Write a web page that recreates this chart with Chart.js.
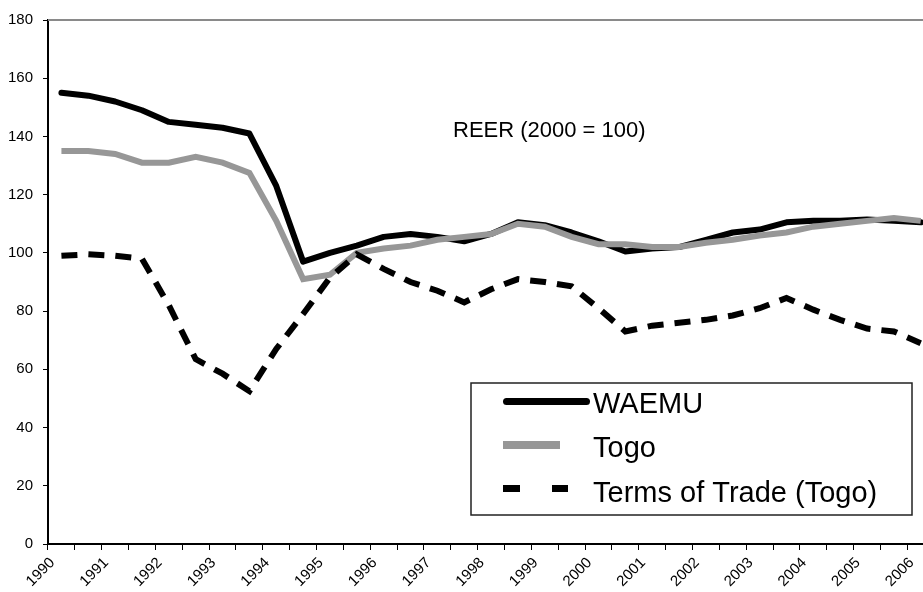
<!DOCTYPE html>
<html>
<head>
<meta charset="utf-8">
<script src="https://cdn.jsdelivr.net/npm/chart.js@4.4.1/dist/chart.umd.min.js"></script>
<style>
  html, body { margin: 0; padding: 0; background: #fff; }
  #wrap { width: 923px; height: 592px; overflow: hidden; }
</style>
</head>
<body>
<div id="wrap"><canvas id="chart" width="980" height="592"></canvas></div>
<script>
// half-year periods, labels shown only on the first half
const periods = [
  '1990 H1', '1990 H2', '1991 H1', '1991 H2', '1992 H1', '1992 H2', '1993 H1', '1993 H2',
  '1994 H1', '1994 H2', '1995 H1', '1995 H2', '1996 H1', '1996 H2', '1997 H1', '1997 H2',
  '1998 H1', '1998 H2', '1999 H1', '1999 H2', '2000 H1', '2000 H2', '2001 H1', '2001 H2',
  '2002 H1', '2002 H2', '2003 H1', '2003 H2', '2004 H1', '2004 H2', '2005 H1', '2005 H2',
  '2006 H1', '2006 H2'
];

const waemu = [155, 154, 152, 149, 145, 144, 143, 141, 123, 97, 100, 102.5, 105.5, 106.5, 105.5, 104,
  106.5, 110.5, 109.5, 107, 104, 100.5, 101.5, 102, 104.5, 107, 108, 110.5, 111, 111, 111.5, 111, 110.5];
const togo = [135, 135, 134, 131, 131, 133, 131, 127.5, 111, 91, 92.5, 100, 101.5, 102.5, 104.5, 105.5,
  106.5, 110, 109, 105.5, 103, 103, 102, 102, 103.5, 104.5, 106, 107, 109, 110, 111, 112, 111];
const termsOfTrade = [99, 99.5, 99, 98, 82, 63.5, 58.5, 52.5, 67, 79, 91.5, 99.5, 94.5, 90, 87, 83,
  87.5, 91, 90, 88.5, 81, 73, 75, 76, 77, 78.5, 81, 84.5, 80.5, 77, 74, 73, 69];

const yTicks = [0, 20, 40, 60, 80, 100, 120, 140, 160, 180];
const note = 'REER (2000 = 100)';

const FONT = "'Liberation Sans', Arial, sans-serif";

// legend sample looks: [length, width, cap, dash]
const legendSamples = [
  {len: 87, width: 7, cap: 'round', dash: []},
  {len: 57, width: 8, cap: 'butt', dash: []},
  {len: 65, width: 7, cap: 'butt', dash: [17, 32]}
];

const extras = {
  id: 'extras',
  afterDraw(chart) {
    const ctx = chart.ctx;
    const area = chart.chartArea;
    ctx.save();
    // top frame line
    ctx.strokeStyle = '#8a8a8a';
    ctx.lineWidth = 2;
    ctx.beginPath();
    ctx.moveTo(area.left, area.top);
    ctx.lineTo(area.right, area.top);
    ctx.stroke();

    // note
    ctx.fillStyle = '#000';
    ctx.font = '22px ' + FONT;
    ctx.textBaseline = 'alphabetic';
    ctx.fillText(note, 453, 137);

    // legend
    ctx.fillStyle = '#fff';
    ctx.fillRect(471, 383, 441, 132);
    ctx.strokeStyle = '#222';
    ctx.lineWidth = 1.5;
    ctx.strokeRect(471, 383, 441, 132);
    const rowY = [401.5, 445, 488.5];
    const textY = [413, 457, 501.5];
    chart.data.datasets.forEach((ds, i) => {
      const s = legendSamples[i];
      const x0 = 503 + (s.cap === 'round' ? s.width / 2 : 0);
      const x1 = 503 + s.len - (s.cap === 'round' ? s.width / 2 : 0);
      ctx.strokeStyle = ds.borderColor;
      ctx.lineWidth = s.width;
      ctx.lineCap = s.cap;
      ctx.setLineDash(s.dash);
      ctx.beginPath();
      ctx.moveTo(x0, rowY[i]);
      ctx.lineTo(x1, rowY[i]);
      ctx.stroke();
      ctx.setLineDash([]);
      ctx.fillStyle = '#000';
      ctx.font = '29px ' + FONT;
      ctx.fillText(ds.label, 593, textY[i]);
    });
    ctx.restore();
  }
};

new Chart(document.getElementById('chart'), {
  type: 'line',
  data: {
    labels: periods,
    datasets: [
      {
        label: 'WAEMU', data: waemu, order: 3,
        borderColor: '#000', borderWidth: 6,
        borderCapStyle: 'round', borderJoinStyle: 'round'
      },
      {
        label: 'Togo', data: togo, order: 2,
        borderColor: '#979797', borderWidth: 6,
        borderCapStyle: 'butt', borderJoinStyle: 'miter'
      },
      {
        label: 'Terms of Trade (Togo)', data: termsOfTrade, order: 1,
        borderColor: '#000', borderWidth: 6, borderDash: [16, 11],
        borderCapStyle: 'butt', borderJoinStyle: 'miter'
      }
    ]
  },
  options: {
    responsive: false,
    animation: false,
    devicePixelRatio: 1,
    elements: { point: { radius: 0, hoverRadius: 0 }, line: { tension: 0 } },
    layout: { padding: { top: 20, right: 19, left: 0, bottom: 0 } },
    plugins: { legend: { display: false }, tooltip: { enabled: false } },
    scales: {
      x: {
        type: 'category',
        offset: true,
        grid: { offset: true, drawOnChartArea: false, drawTicks: true, tickLength: 6, color: '#000', lineWidth: 1 },
        border: { display: true, color: '#000', width: 2 },
        ticks: {
          autoSkip: false, maxRotation: 45, minRotation: 45,
          labelOffset: -9, padding: 4,
          color: '#000', font: { family: FONT, size: 15 },
          callback: function (v) {
            const p = periods[v];
            return p.endsWith('H1') ? p.slice(0, 4) : '';
          }
        },
        afterFit: s => { s.height = 48; s.paddingLeft = 0; s.paddingRight = 0; }
      },
      y: {
        min: 0, max: 180,
        afterBuildTicks: s => { s.ticks = yTicks.map(v => ({value: v})); },
        grid: { drawOnChartArea: false, drawTicks: true, tickLength: 5, color: '#000', lineWidth: 1 },
        border: { display: true, color: '#000', width: 2 },
        ticks: { color: '#000', padding: 10, font: { family: FONT, size: 15 } },
        afterFit: s => { s.width = 48; }
      }
    }
  },
  plugins: [extras]
});
</script>
</body>
</html>
